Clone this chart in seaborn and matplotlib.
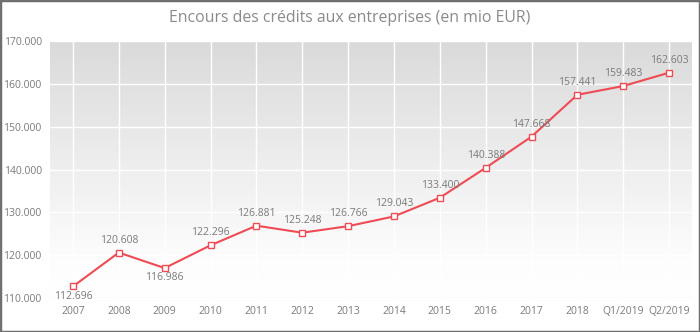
import numpy as np
import pandas as pd
import matplotlib
matplotlib.use("Agg")
import matplotlib.pyplot as plt
import seaborn as sns

categories = ["2007", "2008", "2009", "2010", "2011", "2012", "2013", "2014",
              "2015", "2016", "2017", "2018", "Q1/2019", "Q2/2019"]
values = [112.696, 120.608, 116.986, 122.296, 126.881, 125.248, 126.766,
          129.043, 133.400, 140.388, 147.668, 157.441, 159.483, 162.603]
below_labels = ["2007", "2009"]
y_ticks = [110, 120, 130, 140, 150, 160, 170]
title = "Encours des crédits aux entreprises (en mio EUR)"

sns.set_theme(style="white")
plt.rcParams['font.family'] = ['Open Sans', 'DejaVu Sans']

df = pd.DataFrame({"cat": categories, "val": values})

fig = plt.figure(figsize=(7, 3.32), dpi=100)
ax = fig.add_axes([50/700, 1-298/332, 642/700, 257/332])

# gradient background
grad = np.linspace(0, 1, 256).reshape(-1, 1)
cmap = matplotlib.colors.LinearSegmentedColormap.from_list(
    "g", [(0, "#ffffff"), (0.15, "#fdfdfd"), (1, "#dadada")])
ax.imshow(grad, extent=[0, 1, 0, 1], transform=ax.transAxes, cmap=cmap,
          aspect="auto", origin="lower", zorder=0)

sns.lineplot(data=df, x="cat", y="val", ax=ax, color="#ef4b55", linewidth=1.5,
             marker="s", markersize=4.5, markerfacecolor="white",
             markeredgecolor="#ef4b55", markeredgewidth=1, sort=False, zorder=3)

ax.set_xlim(-0.5, len(categories) - 0.5)
ax.set_ylim(110, 170)
ax.set_yticks(y_ticks)
ax.set_yticklabels([f"{t}.000" for t in y_ticks])
ax.set_xticks(range(len(categories)))
ax.set_xticklabels(categories)
ax.tick_params(axis="both", labelsize=7.5, labelcolor="#7a7a7a", length=0)
ax.tick_params(axis="x", pad=6)
ax.tick_params(axis="y", pad=6)
ax.set_xlabel("")
ax.set_ylabel("")
ax.grid(True, color="white", linewidth=1, zorder=1)
ax.set_axisbelow(False)
for s in ax.spines.values():
    s.set_visible(False)
ax.axhline(110, color="#e6e6e6", linewidth=1, zorder=2)

for i, (c, v) in enumerate(zip(categories, values)):
    txt = f"{v:.3f}"
    if c in below_labels:
        ax.annotate(txt, (i, v), xytext=(0, -3), textcoords="offset points",
                    ha="center", va="top", fontsize=7.5, color="#7a7a7a", zorder=4)
    else:
        ax.annotate(txt, (i, v), xytext=(0, 5), textcoords="offset points",
                    ha="center", va="bottom", fontsize=7.5, color="#7a7a7a", zorder=4)

fig.text(0.5, 1-18/332, title, ha="center", va="center", fontsize=11.4, color="#8a8a8a")

border = matplotlib.patches.Rectangle((0, 0), 1, 1, transform=fig.transFigure,
                                      fill=False, edgecolor="#707070", linewidth=2.5)
fig.patches.append(border)

fig.savefig("out.png", dpi=100)
